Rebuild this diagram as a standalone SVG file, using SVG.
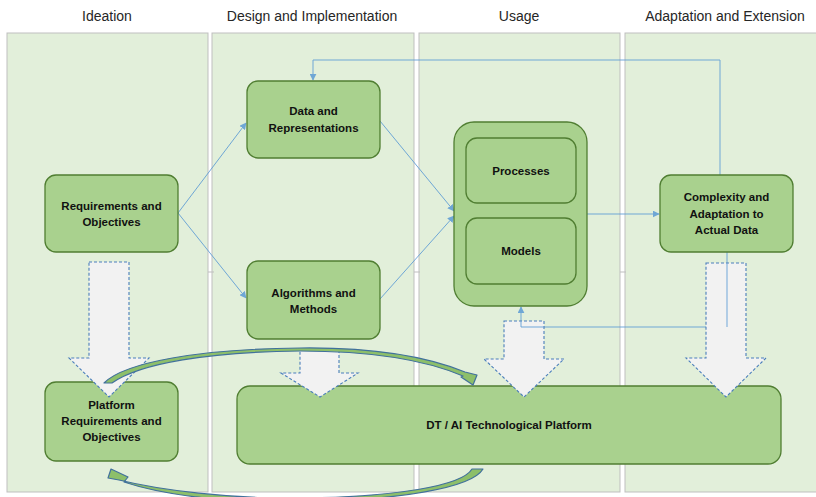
<svg xmlns="http://www.w3.org/2000/svg" width="816" height="497" viewBox="0 0 816 497">
<defs>
<style>
.panel{fill:#E2EFDA;stroke:#BFBFBF;stroke-width:1}
.hdr{font-family:"Liberation Sans",Arial,sans-serif;font-size:14px;fill:#262626;text-anchor:middle}
.box{fill:#A9D18E;stroke:#507E32;stroke-width:1.3}
.lbl{font-family:"Liberation Sans",Arial,sans-serif;font-size:11.5px;font-weight:bold;fill:#111;text-anchor:middle}
.con{fill:none;stroke:#5B9BD5;stroke-width:1;opacity:0.85}
.blk{fill:#F2F2F2;stroke:#4A7EBB;stroke-width:1.1;stroke-dasharray:3,2}
.crv{fill:#8DBF6A;stroke:#41719C;stroke-width:1.2;stroke-linejoin:round}
.tick{stroke:#BFBFBF;stroke-width:1}
</style>
<marker id="ah" viewBox="0 0 10 10" refX="9" refY="5" markerWidth="7" markerHeight="7" orient="auto" markerUnits="userSpaceOnUse">
<path d="M0,0 L10,5 L0,10 z" fill="#5B9BD5"/>
</marker>
</defs>

<g id="panels">
<rect class="panel" x="7" y="33" width="201" height="459"/>
<rect class="panel" x="212" y="33" width="202" height="459"/>
<rect class="panel" x="419" y="33" width="201" height="459"/>
<rect class="panel" x="625" y="33" width="195" height="459"/>
<line class="tick" x1="208" y1="272" x2="214" y2="272"/>
<line class="tick" x1="414" y1="272" x2="420" y2="272"/>
<line class="tick" x1="620" y1="272" x2="626" y2="272"/>
</g>

<g id="headers">
<text class="hdr" x="107" y="21">Ideation</text>
<text class="hdr" x="312" y="21">Design and Implementation</text>
<text class="hdr" x="519" y="21">Usage</text>
<text class="hdr" x="725" y="21">Adaptation and Extension</text>
</g>

<g id="connectors">
<path class="con" d="M178,213 L246,123" marker-end="url(#ah)"/>
<path class="con" d="M178,213 L246,298" marker-end="url(#ah)"/>
<path class="con" d="M380,121 L454,211" marker-end="url(#ah)"/>
<path class="con" d="M380,299 L454,216" marker-end="url(#ah)"/>
<path class="con" d="M587,214 L659,214" marker-end="url(#ah)"/>
<path class="con" d="M720,175 L720,60 L313,60 L313,80" marker-end="url(#ah)"/>
<path class="con" d="M727,252 L727,327 L521,327 L521,307" marker-end="url(#ah)"/>
</g>

<g id="n-requirements">
<rect class="box" x="45" y="175" width="133" height="77" rx="11"/>
<text class="lbl" x="111.5" y="210">Requirements and</text>
<text class="lbl" x="111.5" y="226">Objectives</text>
</g>

<g id="n-data">
<rect class="box" x="247" y="81" width="133" height="77" rx="11"/>
<text class="lbl" x="313.5" y="115">Data and</text>
<text class="lbl" x="313.5" y="132">Representations</text>
</g>

<g id="n-algorithms">
<rect class="box" x="247" y="261" width="133" height="78" rx="11"/>
<text class="lbl" x="313.5" y="297">Algorithms and</text>
<text class="lbl" x="313.5" y="313">Methods</text>
</g>

<g id="n-usage">
<rect class="box" x="454" y="122" width="133" height="184" rx="20"/>
</g>
<g id="n-processes">
<rect class="box" x="466" y="138" width="110" height="65" rx="11"/>
<text class="lbl" x="521" y="175">Processes</text>
</g>
<g id="n-models">
<rect class="box" x="466" y="218" width="110" height="66" rx="11"/>
<text class="lbl" x="521" y="255">Models</text>
</g>

<g id="n-complexity">
<rect class="box" x="660" y="175" width="133" height="77" rx="11"/>
<text class="lbl" x="726.5" y="201">Complexity and</text>
<text class="lbl" x="726.5" y="218">Adaptation to</text>
<text class="lbl" x="726.5" y="234">Actual Data</text>
</g>

<g id="n-platform-req">
<rect class="box" x="45" y="382" width="133" height="79" rx="11"/>
<text class="lbl" x="111.5" y="409">Platform</text>
<text class="lbl" x="111.5" y="425">Requirements and</text>
<text class="lbl" x="111.5" y="441">Objectives</text>
</g>

<g id="n-dtai">
<rect class="box" x="237" y="386" width="544" height="78" rx="13"/>
<text class="lbl" x="509" y="429">DT / AI Technological Platform</text>
</g>

<g id="block-arrows">
<path class="blk" d="M89,262 L129,262 L129,358 L149,358 L109,397 L69,358 L89,358 Z"/>
<path class="blk" d="M300,349 L339,349 L339,373 L358,373 L320,397 L281,373 L300,373 Z"/>
<path class="blk" d="M504,321 L544,321 L544,359 L564,359 L524,397 L484,359 L504,359 Z"/>
<path class="blk" d="M706,263 L746,263 L746,358 L766,358 L726,397 L686,358 L706,358 Z"/>
<line x1="727" y1="263" x2="727" y2="327" stroke="#5B9BD5" stroke-width="1" opacity="0.85"/>
<line x1="521" y1="321" x2="521" y2="327" stroke="#5B9BD5" stroke-width="1" opacity="0.85"/>
<line x1="521" y1="327" x2="544" y2="327" stroke="#5B9BD5" stroke-width="1" opacity="0.85"/>
</g>

<g id="curved-arrows">
<path class="crv" d="M104,383 C125,362 200,349 300,348 C380,347 430,358 465,372 L477,375 L473,385 L461,377 L463,376 C430,362 380,351 300,351 C210,352 140,363 112,383 Z"/>
<path class="crv" d="M472,469 L483,469 C472,488 400,500 300,502 C220,503 160,494 124,482 L128,477 L111,469 L108,478 L119,480 C160,490 230,499 300,498 C395,497 462,486 472,469 Z"/>
</g>
</svg>
